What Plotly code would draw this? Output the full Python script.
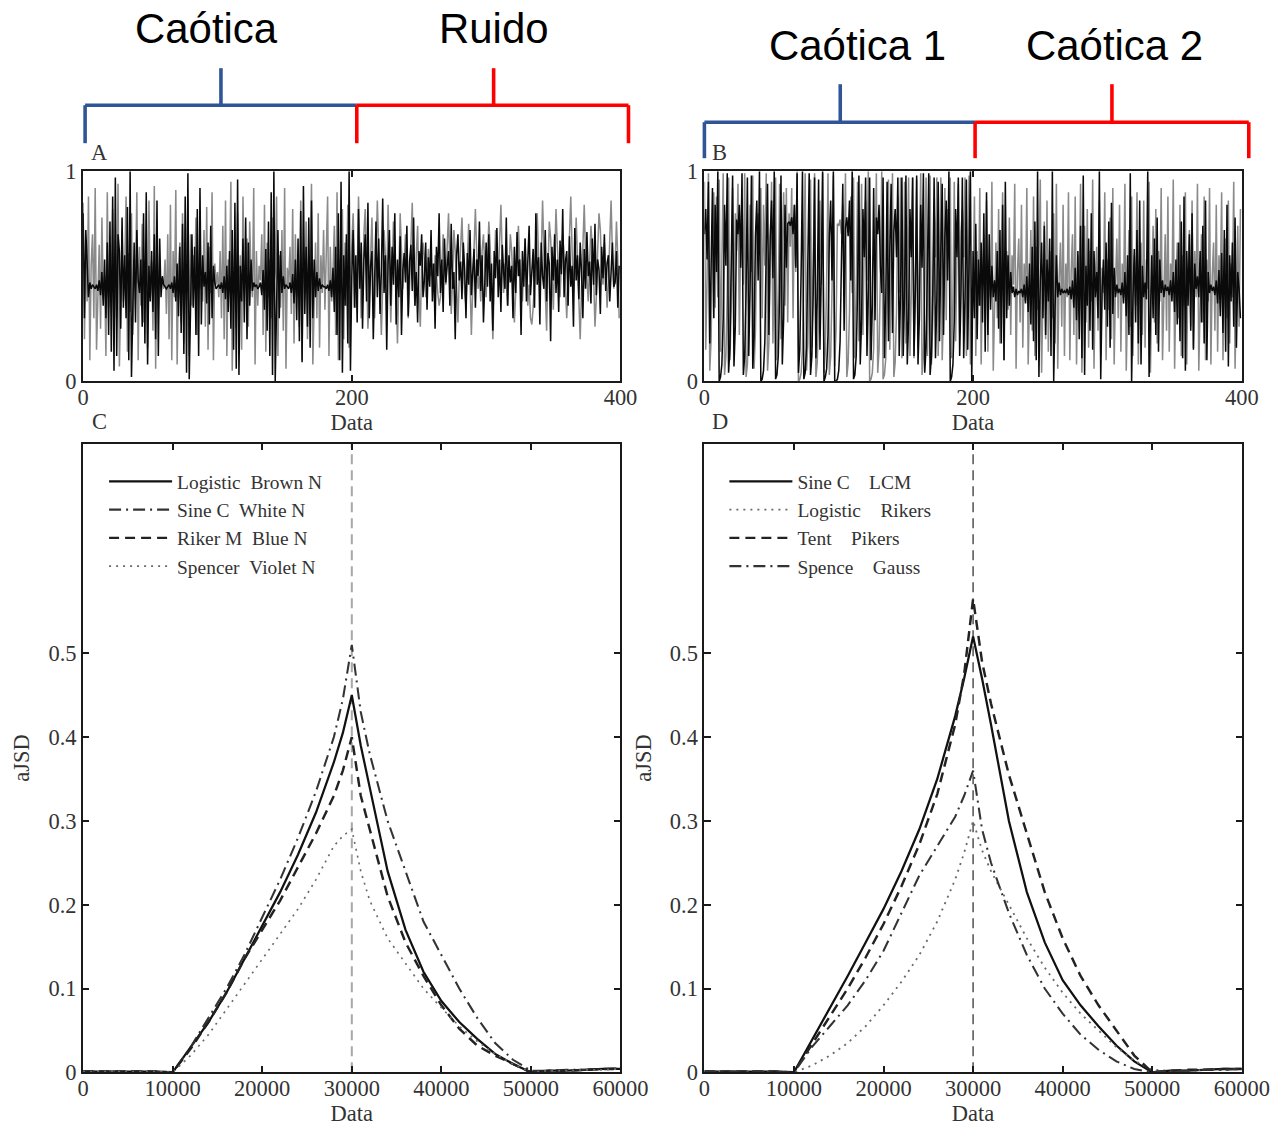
import plotly.graph_objects as go

# Layout is designed in reference-image pixels (1285 x 1127).  The captured page
# comes back slightly smaller and keeps the default 8px body margin, so the
# design is enlarged by K and shifted by the margin (plus a small correction).
REF_W, REF_H = 1285, 1127
K = 1.0225
OFF = 8
W = round(REF_W * K - OFF)
H = round(REF_H * K - OFF)


def px(x):
    return ((x * 1.003 + 3) * K - OFF) / W


def py(y):
    return 1 - ((y - 4) * K - OFF) / H


def s(v):
    return v * K


# ---------------- data ----------------
time_x = list(range(400))

A_black = [
    0.80, 0.30, 0.72, 0.50, 0.40, 0.47, 0.44, 0.46, 0.45, 0.44, 0.46, 0.43, 0.48, 0.41, 0.52, 0.36, 0.58, 0.30, 0.66, 0.22,
    0.76, 0.14, 0.88, 0.05, 0.97, 0.12, 0.70, 0.62, 0.25, 0.78, 0.35, 0.60, 0.30, 0.83, 0.10, 1.00, 0.02, 0.40, 0.66, 0.28,
    0.72, 0.48, 0.42, 0.58, 0.26, 0.80, 0.18, 0.90, 0.08, 0.55, 0.38, 0.62, 0.33, 0.70, 0.20, 0.86, 0.12, 0.68, 0.40, 0.50,
    0.46, 0.45, 0.44, 0.45, 0.46, 0.44, 0.47, 0.42, 0.50, 0.38, 0.56, 0.31, 0.64, 0.23, 0.75, 0.13, 0.88, 0.04, 0.99, 0.01,
    0.30, 0.70, 0.35, 0.64, 0.22, 0.82, 0.12, 0.92, 0.27, 0.60, 0.45, 0.52, 0.37, 0.66, 0.27, 0.74, 0.30, 0.55, 0.47, 0.44,
    0.45, 0.46, 0.44, 0.47, 0.42, 0.50, 0.39, 0.55, 0.33, 0.62, 0.25, 0.72, 0.15, 0.85, 0.06, 0.96, 0.03, 0.55, 0.38, 0.68,
    0.28, 0.78, 0.20, 0.66, 0.36, 0.58, 0.43, 0.47, 0.45, 0.46, 0.44, 0.45, 0.47, 0.41, 0.53, 0.34, 0.63, 0.24, 0.76, 0.12,
    0.90, 0.03, 1.00, 0.00, 0.35, 0.72, 0.30, 0.62, 0.42, 0.50, 0.44, 0.46, 0.45, 0.44, 0.47, 0.42, 0.51, 0.37, 0.58, 0.29,
    0.68, 0.19, 0.81, 0.09, 0.93, 0.32, 0.64, 0.26, 0.78, 0.16, 0.86, 0.30, 0.58, 0.40, 0.52, 0.43, 0.49, 0.44, 0.46, 0.45,
    0.45, 0.44, 0.46, 0.43, 0.48, 0.40, 0.54, 0.33, 0.64, 0.22, 0.80, 0.10, 0.95, 0.04, 0.60, 0.36, 0.70, 0.18, 1.00, 0.05,
    0.50, 0.72, 0.35, 0.60, 0.28, 0.82, 0.44, 0.66, 0.25, 0.58, 0.70, 0.38, 0.85, 0.30, 0.55, 0.62, 0.20, 0.48, 0.76, 0.40,
    0.68, 0.32, 0.52, 0.87, 0.42, 0.60, 0.15, 0.56, 0.72, 0.36, 0.64, 0.46, 0.80, 0.27, 0.58, 0.40, 0.69, 0.22, 0.53, 0.61,
    0.47, 0.74, 0.31, 0.57, 0.65, 0.43, 0.78, 0.36, 0.52, 0.28, 0.62, 0.55, 0.70, 0.40, 0.48, 0.66, 0.34, 0.59, 0.45, 0.72,
    0.38, 0.56, 0.25, 0.64, 0.50, 0.80, 0.42, 0.58, 0.33, 0.68, 0.47, 0.55, 0.62, 0.36, 0.75, 0.44, 0.52, 0.20, 0.60, 0.70,
    0.48, 0.57, 0.39, 0.66, 0.53, 0.30, 0.61, 0.46, 0.72, 0.41, 0.55, 0.63, 0.35, 0.58, 0.50, 0.76, 0.43, 0.60, 0.28, 0.54,
    0.66, 0.45, 0.70, 0.38, 0.56, 0.24, 0.62, 0.49, 0.73, 0.40, 0.58, 0.33, 0.65, 0.52, 0.44, 0.78, 0.36, 0.60, 0.47, 0.55,
    0.30, 0.64, 0.42, 0.71, 0.50, 0.58, 0.22, 0.62, 0.45, 0.68, 0.38, 0.57, 0.74, 0.41, 0.53, 0.63, 0.35, 0.80, 0.46, 0.59,
    0.27, 0.66, 0.50, 0.44, 0.72, 0.38, 0.61, 0.56, 0.19, 0.64, 0.48, 0.70, 0.42, 0.58, 0.33, 0.67, 0.51, 0.82, 0.40, 0.57,
    0.62, 0.36, 0.69, 0.45, 0.55, 0.26, 0.73, 0.48, 0.60, 0.39, 0.66, 0.52, 0.30, 0.63, 0.44, 0.71, 0.50, 0.57, 0.37, 0.68,
    0.46, 0.75, 0.41, 0.58, 0.53, 0.32, 0.64, 0.49, 0.70, 0.43, 0.56, 0.60, 0.38, 0.52, 0.66, 0.45, 0.47, 0.62, 0.35, 0.55,
]

A_gray = [
    0.85, 0.20, 0.62, 0.38, 0.88, 0.10, 0.55, 0.70, 0.30, 0.92, 0.15, 0.48, 0.65, 0.25, 0.78, 0.40, 0.50, 0.12, 0.90, 0.35,
    0.58, 0.42, 0.82, 0.18, 0.67, 0.30, 0.94, 0.07, 0.45, 0.72, 0.38, 0.55, 0.88, 0.14, 0.61, 0.33, 0.80, 0.22, 0.52, 0.47,
    0.90, 0.10, 0.64, 0.36, 0.75, 0.28, 0.50, 0.60, 0.16, 0.86, 0.40, 0.57, 0.24, 0.93, 0.06, 0.68, 0.34, 0.55, 0.45, 0.49,
    0.44, 0.58, 0.32, 0.70, 0.20, 0.84, 0.10, 0.62, 0.40, 0.91, 0.08, 0.52, 0.66, 0.28, 0.80, 0.18, 0.58, 0.42, 0.87, 0.12,
    0.70, 0.36, 0.60, 0.48, 0.78, 0.22, 0.55, 0.44, 0.50, 0.38, 0.72, 0.26, 0.83, 0.15, 0.64, 0.42, 0.90, 0.10, 0.56, 0.46,
    0.52, 0.40, 0.62, 0.30, 0.74, 0.20, 0.86, 0.12, 0.58, 0.47, 0.95, 0.05, 0.40, 0.68, 0.25, 0.80, 0.35, 0.60, 0.15, 0.88,
    0.42, 0.54, 0.68, 0.26, 0.76, 0.50, 0.40, 0.92, 0.08, 0.62, 0.36, 0.55, 0.48, 0.70, 0.22, 0.84, 0.14, 0.66, 0.40, 0.58,
    0.30, 0.78, 0.46, 0.52, 0.88, 0.12, 0.60, 0.35, 0.72, 0.24, 0.92, 0.06, 0.54, 0.46, 0.64, 0.32, 0.82, 0.18, 0.70, 0.40,
    0.55, 0.26, 0.86, 0.10, 0.62, 0.44, 0.76, 0.20, 0.58, 0.50, 0.94, 0.08, 0.48, 0.66, 0.30, 0.80, 0.16, 0.60, 0.42, 0.72,
    0.34, 0.56, 0.88, 0.12, 0.64, 0.38, 0.52, 0.74, 0.22, 0.90, 0.10, 0.58, 0.46, 0.82, 0.20, 0.66, 0.36, 0.84, 0.16, 0.50,
    0.62, 0.80, 0.55, 0.35, 0.48, 0.88, 0.60, 0.30, 0.42, 0.70, 0.82, 0.50, 0.25, 0.40, 0.65, 0.78, 0.45, 0.30, 0.58, 0.86,
    0.64, 0.38, 0.22, 0.46, 0.72, 0.60, 0.40, 0.84, 0.55, 0.28, 0.50, 0.76, 0.66, 0.35, 0.18, 0.48, 0.80, 0.62, 0.44, 0.57,
    0.70, 0.52, 0.30, 0.45, 0.68, 0.85, 0.50, 0.36, 0.60, 0.74, 0.42, 0.26, 0.55, 0.66, 0.58, 0.40, 0.47, 0.63, 0.52, 0.50,
    0.56, 0.44, 0.60, 0.48, 0.42, 0.36, 0.40, 0.54, 0.70, 0.58, 0.46, 0.64, 0.80, 0.55, 0.32, 0.48, 0.72, 0.62, 0.40, 0.28,
    0.50, 0.68, 0.78, 0.56, 0.42, 0.36, 0.58, 0.75, 0.48, 0.22, 0.45, 0.66, 0.82, 0.60, 0.44, 0.50, 0.38, 0.62, 0.70, 0.54,
    0.40, 0.58, 0.76, 0.64, 0.34, 0.20, 0.46, 0.72, 0.60, 0.50, 0.66, 0.84, 0.58, 0.42, 0.56, 0.45, 0.36, 0.52, 0.70, 0.62,
    0.48, 0.28, 0.42, 0.60, 0.74, 0.56, 0.45, 0.38, 0.55, 0.68, 0.52, 0.36, 0.46, 0.30, 0.27, 0.35, 0.48, 0.66, 0.80, 0.60,
    0.44, 0.58, 0.86, 0.62, 0.40, 0.24, 0.52, 0.76, 0.68, 0.46, 0.34, 0.58, 0.82, 0.64, 0.48, 0.40, 0.56, 0.70, 0.60, 0.45,
    0.30, 0.50, 0.72, 0.88, 0.62, 0.42, 0.55, 0.78, 0.58, 0.36, 0.20, 0.44, 0.66, 0.84, 0.60, 0.48, 0.38, 0.56, 0.74, 0.64,
    0.50, 0.26, 0.40, 0.62, 0.80, 0.72, 0.52, 0.46, 0.66, 0.54, 0.35, 0.48, 0.70, 0.86, 0.60, 0.44, 0.55, 0.76, 0.58, 0.30,
]

B_black = [
    0.70, 0.82, 0.58, 0.95, 0.18, 0.60, 0.92, 0.30, 0.84, 0.52, 1.00, 0.00, 0.02, 0.08, 0.30, 0.84, 0.55, 0.99, 0.04, 0.16,
    0.55, 0.98, 0.07, 0.26, 0.77, 0.70, 0.84, 0.54, 0.99, 0.03, 0.12, 0.42, 0.97, 0.12, 0.44, 0.98, 0.06, 0.22, 0.69, 0.86,
    0.48, 1.00, 0.00, 0.01, 0.05, 0.19, 0.62, 0.94, 0.22, 0.69, 0.86, 0.49, 1.00, 0.01, 0.03, 0.12, 0.42, 0.98, 0.08, 0.30,
    0.84, 0.54, 0.75, 0.76, 0.74, 0.78, 0.70, 0.84, 0.54, 0.99, 0.04, 0.15, 0.52, 1.00, 0.01, 0.04, 0.16, 0.54, 0.99, 0.03,
    0.12, 0.42, 0.97, 0.11, 0.40, 0.96, 0.15, 0.51, 1.00, 0.00, 0.02, 0.06, 0.22, 0.69, 0.86, 0.48, 1.00, 0.00, 0.00, 0.01,
    0.05, 0.19, 0.62, 0.94, 0.24, 0.73, 0.78, 0.69, 0.86, 0.48, 1.00, 0.01, 0.03, 0.12, 0.42, 0.98, 0.08, 0.29, 0.82, 0.59,
    0.97, 0.12, 0.42, 0.97, 0.10, 0.36, 0.92, 0.29, 0.78, 0.70, 0.84, 0.54, 0.42, 0.97, 0.11, 0.39, 0.95, 0.19, 0.62, 0.94,
    0.23, 0.71, 0.82, 0.59, 0.97, 0.12, 0.42, 0.97, 0.12, 0.42, 0.98, 0.08, 0.29, 0.82, 0.59, 0.97, 0.12, 0.43, 0.98, 0.08,
    0.30, 0.84, 0.54, 0.99, 0.04, 0.16, 0.54, 0.99, 0.03, 0.12, 0.42, 0.97, 0.11, 0.39, 0.95, 0.19, 0.62, 0.94, 0.22, 0.69,
    0.86, 0.48, 1.00, 0.00, 0.02, 0.08, 0.29, 0.82, 0.59, 0.97, 0.12, 0.42, 0.97, 0.11, 0.40, 0.96, 0.15, 0.51, 1.00, 0.00,
    0.62, 0.30, 0.75, 0.20, 0.58, 0.36, 0.66, 0.28, 0.80, 0.14, 0.90, 0.22, 0.70, 0.34, 0.55, 0.40, 0.48, 0.38, 0.62, 0.25,
    0.72, 0.18, 0.84, 0.10, 0.95, 0.30, 0.60, 0.36, 0.52, 0.42, 0.45, 0.40, 0.44, 0.41, 0.43, 0.42, 0.44, 0.40, 0.46, 0.37,
    0.50, 0.33, 0.56, 0.27, 0.64, 0.19, 0.76, 0.10, 1.00, 0.02, 0.48, 0.66, 0.30, 0.74, 0.22, 0.58, 0.38, 0.68, 0.12, 1.00,
    0.00, 0.35, 0.60, 0.40, 0.47, 0.41, 0.44, 0.42, 0.43, 0.42, 0.44, 0.41, 0.45, 0.39, 0.48, 0.35, 0.54, 0.29, 0.62, 0.20,
    0.74, 0.11, 0.98, 0.03, 0.55, 0.36, 0.68, 0.24, 0.80, 0.15, 0.62, 0.40, 0.52, 0.30, 1.00, 0.01, 0.42, 0.58, 0.34, 0.66,
    0.26, 0.76, 0.16, 0.85, 0.32, 0.54, 0.40, 0.46, 0.42, 0.44, 0.41, 0.47, 0.37, 0.52, 0.31, 0.60, 0.22, 0.99, 0.00, 0.40,
    0.63, 0.28, 0.72, 0.18, 0.86, 0.08, 0.55, 0.40, 0.47, 0.39, 1.00, 0.02, 0.36, 0.60, 0.30, 0.68, 0.22, 0.78, 0.14, 0.58,
    0.42, 0.48, 0.40, 0.46, 0.43, 0.45, 0.41, 0.48, 0.38, 0.52, 0.33, 0.58, 0.27, 0.66, 0.19, 0.76, 0.11, 0.88, 0.05, 0.62,
    0.36, 0.70, 0.24, 0.80, 0.15, 0.56, 0.44, 0.50, 0.40, 0.62, 0.28, 0.74, 0.18, 0.86, 0.10, 0.52, 0.42, 0.46, 0.43, 0.45,
    0.41, 0.48, 0.37, 0.53, 0.31, 0.61, 0.23, 0.72, 0.14, 0.84, 0.07, 0.60, 0.38, 0.66, 0.26, 0.78, 0.16, 0.52, 0.44, 0.30,
]

B_gray = [
    0.95, 0.15, 0.50, 0.99, 0.05, 0.20, 0.65, 0.90, 0.35, 0.88, 0.40, 0.96, 0.14, 0.48, 0.99, 0.03, 0.12, 0.42, 0.97, 0.10,
    0.36, 0.92, 0.28, 0.80, 0.62, 0.94, 0.22, 0.68, 0.86, 0.46, 0.99, 0.02, 0.08, 0.30, 0.84, 0.52, 0.98, 0.06, 0.24, 0.72,
    0.80, 0.64, 0.92, 0.30, 0.84, 0.55, 0.99, 0.05, 0.18, 0.60, 0.95, 0.18, 0.58, 0.97, 0.10, 0.38, 0.94, 0.20, 0.66, 0.90,
    0.36, 0.92, 0.28, 0.80, 0.64, 0.92, 0.30, 0.84, 0.52, 1.00, 0.00, 0.01, 0.04, 0.15, 0.52, 0.99, 0.05, 0.18, 0.60, 0.96,
    0.16, 0.54, 0.99, 0.02, 0.09, 0.32, 0.86, 0.46, 0.99, 0.04, 0.14, 0.48, 0.99, 0.03, 0.12, 0.44, 0.98, 0.07, 0.25, 0.75,
    0.74, 0.77, 0.70, 0.84, 0.54, 0.99, 0.02, 0.09, 0.33, 0.88, 0.42, 0.97, 0.11, 0.39, 0.95, 0.19, 0.62, 0.94, 0.22, 0.68,
    0.86, 0.48, 1.00, 0.00, 0.01, 0.04, 0.16, 0.54, 0.99, 0.04, 0.15, 0.51, 1.00, 0.01, 0.03, 0.11, 0.40, 0.96, 0.15, 0.51,
    0.99, 0.02, 0.09, 0.33, 0.88, 0.42, 0.97, 0.11, 0.39, 0.95, 0.18, 0.59, 0.97, 0.12, 0.42, 0.97, 0.11, 0.40, 0.96, 0.16,
    0.54, 0.99, 0.03, 0.12, 0.42, 0.97, 0.12, 0.43, 0.98, 0.08, 0.29, 0.82, 0.59, 0.97, 0.12, 0.42, 0.97, 0.10, 0.36, 0.92,
    0.29, 0.82, 0.58, 0.97, 0.11, 0.39, 0.95, 0.19, 0.62, 0.94, 0.23, 0.71, 0.82, 0.59, 0.97, 0.12, 0.42, 0.98, 0.08, 0.30,
    0.45, 0.88, 0.12, 0.62, 0.36, 0.92, 0.08, 0.50, 0.70, 0.26, 0.86, 0.14, 0.58, 0.40, 0.95, 0.05, 0.44, 0.66, 0.30, 0.82,
    0.18, 0.54, 0.90, 0.10, 0.48, 0.62, 0.34, 0.78, 0.22, 0.60, 0.46, 0.94, 0.06, 0.52, 0.68, 0.28, 0.84, 0.16, 0.56, 0.38,
    0.92, 0.08, 0.46, 0.72, 0.24, 0.88, 0.12, 0.64, 0.34, 0.58, 0.96, 0.04, 0.42, 0.76, 0.20, 0.86, 0.14, 0.50, 0.62, 0.30,
    0.80, 0.18, 0.94, 0.06, 0.48, 0.66, 0.26, 0.84, 0.12, 0.56, 0.40, 0.90, 0.10, 0.52, 0.70, 0.22, 0.88, 0.08, 0.60, 0.36,
    0.94, 0.04, 0.44, 0.74, 0.28, 0.82, 0.16, 0.62, 0.38, 0.96, 0.06, 0.50, 0.64, 0.24, 0.86, 0.12, 0.54, 0.42, 0.90, 0.10,
    0.58, 0.34, 0.78, 0.20, 0.92, 0.08, 0.46, 0.68, 0.30, 0.84, 0.14, 0.56, 0.40, 0.94, 0.05, 0.48, 0.72, 0.26, 0.88, 0.12,
    0.60, 0.36, 0.90, 0.08, 0.52, 0.66, 0.22, 0.86, 0.16, 0.58, 0.44, 0.95, 0.04, 0.46, 0.74, 0.28, 0.82, 0.18, 0.62, 0.38,
    0.92, 0.10, 0.50, 0.70, 0.24, 0.88, 0.14, 0.56, 0.42, 0.96, 0.06, 0.48, 0.66, 0.30, 0.84, 0.12, 0.60, 0.36, 0.90, 0.08,
    0.54, 0.72, 0.26, 0.86, 0.16, 0.62, 0.40, 0.94, 0.05, 0.46, 0.70, 0.28, 0.88, 0.10, 0.58, 0.38, 0.92, 0.08, 0.50, 0.66,
    0.24, 0.84, 0.14, 0.60, 0.44, 0.90, 0.10, 0.52, 0.68, 0.30, 0.86, 0.18, 0.56, 0.40, 0.95, 0.06, 0.48, 0.74, 0.26, 0.82,
]

curve_x = [0, 4000, 8000, 10000, 12000, 14000, 16000, 18000, 20000, 22000, 24000, 26000, 28000, 29000,
           30000, 31000, 32000, 34000, 36000, 38000, 40000, 42000, 44000, 46000, 48000, 50000,
           52000, 54000, 56000, 58000, 60000]

# Panel C
C_logistic_brown = [0.001, 0.001, 0.001, 0.000, 0.030, 0.060, 0.095, 0.135, 0.175, 0.215, 0.260, 0.310, 0.370, 0.405,
                    0.450, 0.390, 0.340, 0.240, 0.170, 0.120, 0.085, 0.060, 0.040, 0.022, 0.010, 0.000,
                    0.002, 0.002, 0.003, 0.004, 0.004]
C_sine_white = [0.001, 0.001, 0.001, 0.000, 0.030, 0.065, 0.100, 0.140, 0.185, 0.230, 0.280, 0.335, 0.400, 0.445,
                0.510, 0.430, 0.380, 0.300, 0.240, 0.180, 0.140, 0.100, 0.065, 0.035, 0.015, 0.002,
                0.002, 0.003, 0.003, 0.004, 0.005]
C_riker_blue = [0.001, 0.001, 0.001, 0.000, 0.028, 0.060, 0.095, 0.135, 0.170, 0.205, 0.245, 0.285, 0.330, 0.360,
                0.400, 0.330, 0.290, 0.210, 0.155, 0.115, 0.080, 0.052, 0.032, 0.020, 0.010, 0.000,
                0.002, 0.002, 0.003, 0.004, 0.004]
C_spencer_violet = [0.001, 0.001, 0.001, 0.000, 0.020, 0.045, 0.075, 0.105, 0.135, 0.165, 0.195, 0.230, 0.270, 0.282,
                    0.290, 0.240, 0.205, 0.160, 0.130, 0.100, 0.077, 0.055, 0.037, 0.022, 0.010, 0.000,
                    0.002, 0.002, 0.003, 0.003, 0.004]

# Panel D
D_sine_lcm = [0.001, 0.001, 0.001, 0.000, 0.038, 0.076, 0.115, 0.155, 0.195, 0.240, 0.290, 0.350, 0.425, 0.470,
              0.520, 0.470, 0.415, 0.300, 0.215, 0.155, 0.110, 0.080, 0.055, 0.032, 0.013, 0.000,
              0.002, 0.002, 0.003, 0.004, 0.004]
D_logistic_rikers = [0.001, 0.001, 0.001, 0.000, 0.008, 0.020, 0.035, 0.055, 0.080, 0.108, 0.140, 0.180, 0.230, 0.262,
                     0.300, 0.265, 0.240, 0.200, 0.160, 0.125, 0.095, 0.070, 0.050, 0.030, 0.014, 0.003,
                     0.002, 0.002, 0.003, 0.003, 0.004]
D_tent_pikers = [0.001, 0.001, 0.001, 0.000, 0.033, 0.066, 0.100, 0.137, 0.177, 0.222, 0.272, 0.332, 0.415, 0.475,
                 0.565, 0.490, 0.440, 0.355, 0.285, 0.215, 0.160, 0.115, 0.080, 0.050, 0.020, 0.000,
                 0.002, 0.003, 0.003, 0.004, 0.004]
D_spence_gauss = [0.001, 0.001, 0.001, 0.000, 0.030, 0.055, 0.080, 0.110, 0.145, 0.190, 0.235, 0.270, 0.305, 0.330,
                  0.360, 0.290, 0.250, 0.190, 0.140, 0.100, 0.070, 0.045, 0.027, 0.013, 0.004, 0.000,
                  0.002, 0.002, 0.003, 0.003, 0.004]

C_names = ["Logistic\u00a0\u00a0Brown N", "Sine C\u00a0\u00a0White N",
           "Riker M\u00a0\u00a0Blue N", "Spencer\u00a0\u00a0Violet N"]
D_names = ["Sine C\u00a0\u00a0\u00a0\u00a0LCM", "Logistic\u00a0\u00a0\u00a0\u00a0Rikers",
           "Tent\u00a0\u00a0\u00a0\u00a0Pikers", "Spence\u00a0\u00a0\u00a0\u00a0Gauss"]

top_xticks = [0, 200, 400]
top_yticks = [0, 1]
bot_xticks = [0, 10000, 20000, 30000, 40000, 50000, 60000]
bot_xticktext = ["0", "10000", "20000", "30000", "40000", "50000", "60000"]
bot_yticks = [0, 0.1, 0.2, 0.3, 0.4, 0.5]
bot_yticktext = ["0", "0.1", "0.2", "0.3", "0.4", "0.5"]

# ---------------- figure ----------------
SERIF = "Liberation Serif, Times New Roman, serif"
SANS = "Liberation Sans, Arial, sans-serif"
BLACK = "#0a0a0a"
GRAY = "#8a8a8a"

fig = go.Figure()

# top panels
for xa, ya, gray_vals, black_vals in [("x", "y", A_gray, A_black), ("x2", "y2", B_gray, B_black)]:
    fig.add_trace(go.Scatter(x=time_x, y=gray_vals, mode="lines", xaxis=xa, yaxis=ya,
                             line=dict(color=GRAY, width=s(1.5)), showlegend=False, hoverinfo="skip"))
    fig.add_trace(go.Scatter(x=time_x, y=black_vals, mode="lines", xaxis=xa, yaxis=ya,
                             line=dict(color=BLACK, width=s(1.5)), showlegend=False, hoverinfo="skip"))

# panel C
C_series = [C_logistic_brown, C_sine_white, C_riker_blue, C_spencer_violet]
C_styles = [dict(color="#111111", width=s(2.2), dash="solid"),
            dict(color="#333333", width=s(2.0), dash="12px,5px,2px,5px"),
            dict(color="#222222", width=s(2.4), dash="10px,6px"),
            dict(color="#6a6a6a", width=s(1.6), dash="2px,5px")]
for name, vals, st in zip(C_names, C_series, C_styles):
    fig.add_trace(go.Scatter(x=curve_x, y=vals, mode="lines", name=name, xaxis="x3", yaxis="y3",
                             line=st, legend="legend"))

# panel D
D_series = [D_sine_lcm, D_logistic_rikers, D_tent_pikers, D_spence_gauss]
D_styles = [dict(color="#111111", width=s(2.2), dash="solid"),
            dict(color="#6a6a6a", width=s(1.8), dash="2px,5px"),
            dict(color="#222222", width=s(2.4), dash="10px,6px"),
            dict(color="#333333", width=s(2.0), dash="12px,5px,2px,5px")]
for name, vals, st in zip(D_names, D_series, D_styles):
    fig.add_trace(go.Scatter(x=curve_x, y=vals, mode="lines", name=name, xaxis="x4", yaxis="y4",
                             line=st, legend="legend2"))

tickfont = dict(family=SERIF, size=s(22), color="#333333")
titlefont = dict(family=SERIF, size=s(22), color="#333333")

dom_left = [px(82), px(620)]
dom_right = [px(704), px(1242)]
dom_top = [py(381), py(171)]
dom_bot = [py(1072), py(443.5)]

common = dict(showline=True, mirror="ticks", linecolor="#1a1a1a", linewidth=s(2), ticks="inside",
              ticklen=s(6), tickwidth=s(1.5), tickcolor="#1a1a1a", showgrid=False, zeroline=False,
              tickfont=tickfont)

legend_font = dict(family=SERIF, size=s(19), color="#333333")

layout = dict(
    width=W, height=H, margin=dict(l=0, r=0, t=0, b=0),
    paper_bgcolor="white", plot_bgcolor="white",
    xaxis=dict(domain=dom_left, anchor="y", range=[0, 400], tickvals=top_xticks,
               title=dict(text="Data", font=titlefont, standoff=0), **common),
    yaxis=dict(domain=dom_top, anchor="x", range=[0, 1], tickvals=top_yticks, **common),
    xaxis2=dict(domain=dom_right, anchor="y2", range=[0, 400], tickvals=top_xticks,
                title=dict(text="Data", font=titlefont, standoff=0), **common),
    yaxis2=dict(domain=dom_top, anchor="x2", range=[0, 1], tickvals=top_yticks, **common),
    xaxis3=dict(domain=dom_left, anchor="y3", range=[0, 60000], tickvals=bot_xticks, ticktext=bot_xticktext,
                title=dict(text="Data", font=titlefont, standoff=0), **common),
    yaxis3=dict(domain=dom_bot, anchor="x3", range=[0, 0.75], tickvals=bot_yticks, ticktext=bot_yticktext,
                title=dict(text="aJSD", font=titlefont, standoff=s(12)), **common),
    xaxis4=dict(domain=dom_right, anchor="y4", range=[0, 60000], tickvals=bot_xticks, ticktext=bot_xticktext,
                title=dict(text="Data", font=titlefont, standoff=0), **common),
    yaxis4=dict(domain=dom_bot, anchor="x4", range=[0, 0.75], tickvals=bot_yticks, ticktext=bot_yticktext,
                title=dict(text="aJSD", font=titlefont, standoff=s(12)), **common),
    legend=dict(x=px(103), y=py(462), xanchor="left", yanchor="top", bgcolor="rgba(0,0,0,0)",
                font=legend_font, itemwidth=63, tracegroupgap=0),
    legend2=dict(x=px(724), y=py(462), xanchor="left", yanchor="top", bgcolor="rgba(0,0,0,0)",
                 font=legend_font, itemwidth=63, tracegroupgap=0),
)
fig.update_layout(**layout)

# pull the x tick labels a little closer to the axis line, as in the reference
try:
    fig.update_xaxes(ticklabelstandoff=-5)
except Exception:
    pass

shapes = []
# reference line at the boundary (x = 30000) in C and D
shapes.append(dict(type="line", xref="x3", yref="y3 domain", x0=30000, x1=30000, y0=0, y1=1,
                   line=dict(color="#a8a8a8", width=s(2), dash="10px,6px"), layer="below"))
shapes.append(dict(type="line", xref="x4", yref="y4 domain", x0=30000, x1=30000, y0=0, y1=1,
                   line=dict(color="#555555", width=s(1.5), dash="10px,6px"), layer="below"))

BLUE = "#2f5597"
RED = "#ff0000"


def bracket(x0, xm, x1, ybar, yup, color):
    out = [
        dict(type="line", xref="paper", yref="paper", x0=px(x0), x1=px(x1), y0=py(ybar), y1=py(ybar)),
        dict(type="line", xref="paper", yref="paper", x0=px(xm), x1=px(xm), y0=py(ybar), y1=py(yup)),
    ]
    for sh in out:
        sh["line"] = dict(color=color, width=s(3.5))
    return out


def tick(x, ytop, ybot, color):
    return dict(type="line", xref="paper", yref="paper", x0=px(x), x1=px(x), y0=py(ytop), y1=py(ybot),
                line=dict(color=color, width=s(3.5)))


# left brackets
shapes += bracket(84, 220, 356, 105, 68, BLUE)
shapes.append(tick(84, 105, 143, BLUE))
shapes += bracket(356, 493, 628, 105, 68, RED)
shapes.append(tick(356, 105, 143, RED))
shapes.append(tick(628, 105, 143, RED))
# right brackets
shapes += bracket(704, 840, 975, 122, 84, BLUE)
shapes.append(tick(704, 122, 158, BLUE))
shapes += bracket(975, 1112, 1249, 122, 84, RED)
shapes.append(tick(975, 122, 158, RED))
shapes.append(tick(1249, 122, 158, RED))

fig.update_layout(shapes=shapes)

annotations = []
for text, x, y in [("Caótica", 206, 28), ("Ruido", 493, 28), ("Caótica 1", 857, 45), ("Caótica 2", 1115, 45)]:
    annotations.append(dict(text=text, x=px(x), y=py(y), xref="paper", yref="paper", showarrow=False,
                            xanchor="center", yanchor="middle", font=dict(family=SANS, size=s(41), color="#000000")))
for text, x, y in [("A", 98, 152), ("B", 719, 152), ("C", 98, 421), ("D", 720, 421)]:
    annotations.append(dict(text=text, x=px(x), y=py(y), xref="paper", yref="paper", showarrow=False,
                            xanchor="center", yanchor="middle", font=dict(family=SERIF, size=s(22), color="#333333")))
fig.update_layout(annotations=annotations)

fig.write_html("out.html")
